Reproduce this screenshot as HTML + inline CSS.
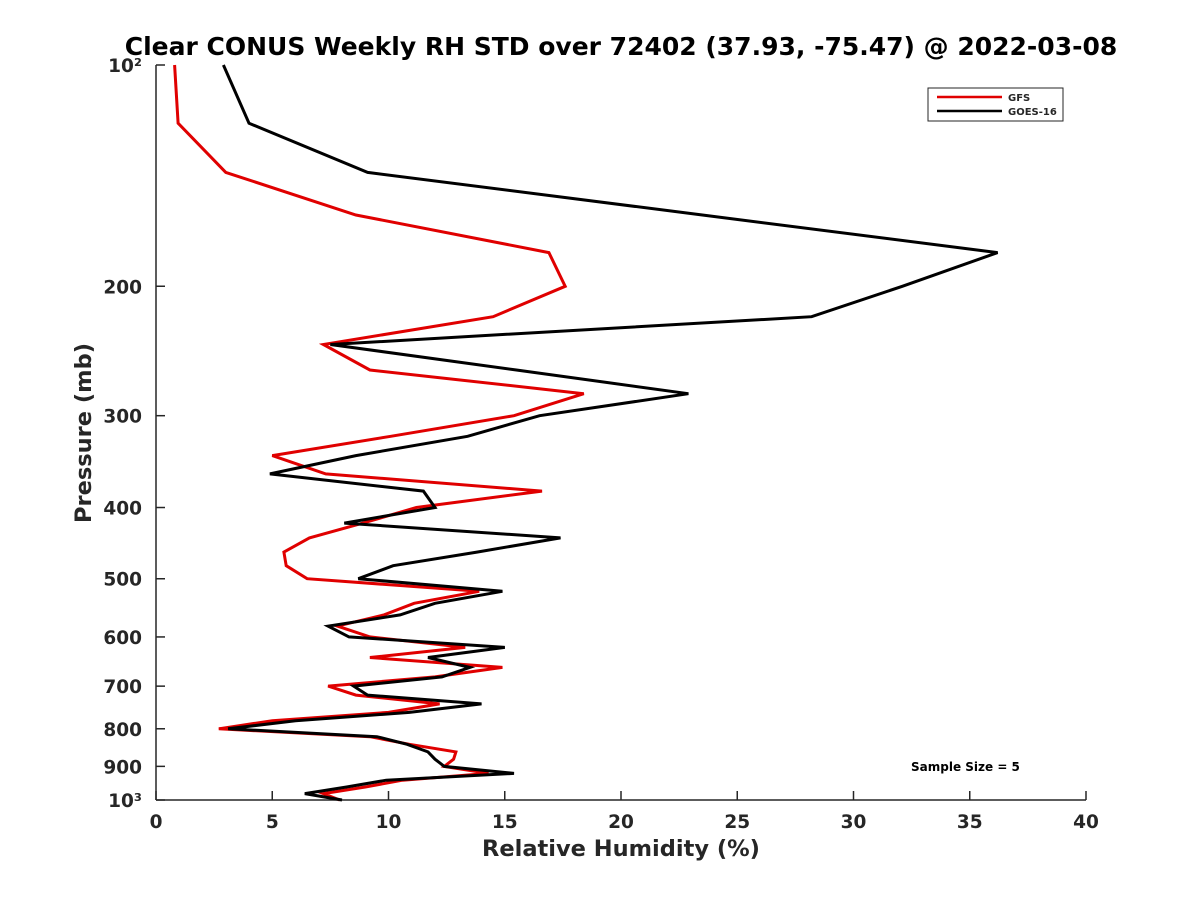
<!DOCTYPE html>
<html><head><meta charset="utf-8"><style>
body{margin:0;background:#fff}
svg text{font-family:"DejaVu Sans","Liberation Sans",sans-serif;font-weight:bold;fill:#262626}
</style></head><body>
<svg id="chart" width="1200" height="900" xmlns="http://www.w3.org/2000/svg">
<rect width="1200" height="900" fill="#fff"/>
<text x="621" y="55" text-anchor="middle" font-size="25" style="fill:#000">Clear CONUS Weekly RH STD over 72402 (37.93, -75.47) @ 2022-03-08</text>
<g id="axes"></g>
<g id="series"></g>
<g>
<rect x="928" y="88" width="135" height="33" fill="#fff" stroke="#262626" stroke-width="1"/>
<line x1="937" y1="97" x2="1002" y2="97" stroke="#e00000" stroke-width="2.5"/>
<text x="1008" y="101" font-size="10">GFS</text>
<line x1="937" y1="111" x2="1002" y2="111" stroke="#000" stroke-width="2.5"/>
<text x="1008" y="115" font-size="10">GOES-16</text>
</g>
<text x="911" y="771" font-size="12" style="fill:#000">Sample Size = 5</text>
<text x="621" y="856" text-anchor="middle" font-size="22.5">Relative Humidity (%)</text>
<text transform="translate(91,433) rotate(-90)" text-anchor="middle" font-size="22.5">Pressure (mb)</text>
</svg>
<script>
const pressures=[100,120,140,160,180,200,220,240,260,280,300,320,340,360,380,400,420,440,460,480,500,520,540,560,580,600,620,640,660,680,700,720,740,760,780,800,820,840,860,880,900,920,940,960,980,1000];
const gfsValues=[0.8,0.95,3.0,8.6,16.9,17.6,14.5,7.2,9.2,18.4,15.4,10.1,5.0,7.3,16.6,11.2,8.9,6.6,5.5,5.6,6.5,13.9,11.1,9.8,7.8,9.2,13.3,9.2,14.9,12.0,7.4,8.6,12.2,10.0,5.0,2.7,9.2,10.9,12.9,12.8,12.4,14.3,10.6,9.0,7.2,7.9];
const goesValues=[2.9,4.0,9.1,23.5,36.2,32.1,28.2,7.5,15.5,22.9,16.5,13.4,8.6,4.9,11.5,12.0,8.1,17.4,13.8,10.2,8.7,14.9,12.0,10.5,7.4,8.3,15.0,11.7,13.5,12.3,8.5,9.1,14.0,10.9,6.0,3.1,9.5,10.8,11.7,12.0,12.4,15.4,9.9,8.2,6.4,8.0];
const xTicks=[0,5,10,15,20,25,30,35,40];
const yTicks=[100,200,300,400,500,600,700,800,900,1000];
const yTickLabels=["10²","200","300","400","500","600","700","800","900","10³"];

const L=156,R=1086,T=65,B=800;
const xs=v=>L+(v-0)/(40-0)*(R-L);
const ys=p=>T+(Math.log10(p)-2)*(B-T);
const NS="http://www.w3.org/2000/svg";
function mk(tag,attrs,parent){const e=document.createElementNS(NS,tag);for(const k in attrs)e.setAttribute(k,attrs[k]);parent.appendChild(e);return e;}
const axes=document.getElementById('axes');
const xl=mk('line',{x1:L,y1:B,x2:R,y2:B,stroke:'#262626','stroke-width':1.5},axes);


const yl=mk('line',{x1:L,y1:T,x2:L,y2:B,stroke:'#262626','stroke-width':1.5},axes);


xTicks.forEach(v=>{
  const x=xs(v);
  mk('line',{x1:x,y1:B,x2:x,y2:B-9,stroke:'#262626','stroke-width':1.5},axes);
  const t=mk('text',{x:x,y:B+28,'text-anchor':'middle','font-size':18.5},axes);
  t.textContent=v;
  
  
});
yTicks.forEach((p,i)=>{
  const y=ys(p);
  mk('line',{x1:L,y1:y,x2:L+9,y2:y,stroke:'#262626','stroke-width':1.5},axes);
  const t=mk('text',{x:L-14,y:y+7,'text-anchor':'end','font-size':18.5},axes);
  t.textContent=yTickLabels[i];
  
  
});
const series=document.getElementById('series');
function draw(vals,color,name){
  const pts=vals.map((v,i)=>xs(v).toFixed(1)+','+ys(pressures[i]).toFixed(1)).join(' ');
  const pl=mk('polyline',{points:pts,fill:'none',stroke:color,'stroke-width':3,'stroke-linejoin':'miter'},series);
  
  
}
draw(gfsValues,'#e00000','gfs-line');
draw(goesValues,'#000000','goes16-line');
</script>
</body></html>
